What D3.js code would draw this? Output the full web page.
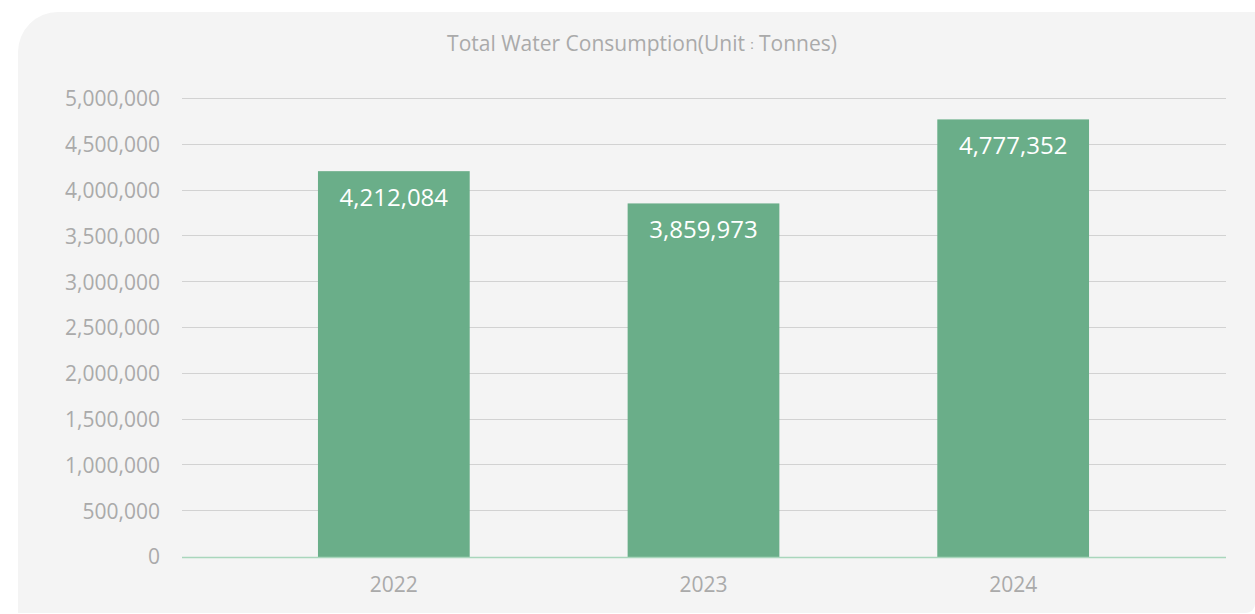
<!DOCTYPE html>
<html>
<head>
<meta charset="utf-8">
<script src="https://cdn.jsdelivr.net/npm/d3@7"></script>
<style>
  body { margin: 0; background: #fff; }
  svg { display: block; font-family: "Open Sans", sans-serif; }
</style>
</head>
<body>
<svg id="chart"></svg>
<script>
var years = ["2022", "2023", "2024"];
var consumption = [4212084, 3859973, 4777352];
var yTicks = [0, 500000, 1000000, 1500000, 2000000, 2500000, 3000000, 3500000, 4000000, 4500000, 5000000];
var titleParts = ["Total Water Consumption(Unit", "：", "Tonnes)"];

var width = 1255, height = 614;

var svg = d3.select("#chart")
  .attr("width", width)
  .attr("height", height);

// panel background, big round top-left corner
svg.append("path")
  .attr("d", "M18,52 A40,40 0 0 1 58,12 L1255,12 L1255,604 A9,9 0 0 1 1246,613 L18,613 Z")
  .attr("fill", "#f4f4f4");

var gridLeft = 182, gridRight = 1226;

var x = d3.scaleBand()
  .domain(years)
  .range([239, 1168])
  .paddingInner(0.51)
  .paddingOuter(0.255);

var y = d3.scaleLinear()
  .domain([0, 5000000])
  .range([557, 99]);

// grid lines
svg.append("g")
  .selectAll("line")
  .data(yTicks.filter(d => d > 0))
  .join("line")
    .attr("x1", gridLeft)
    .attr("x2", gridRight)
    .attr("y1", d => Math.round(y(d)) - 0.5)
    .attr("y2", d => Math.round(y(d)) - 0.5)
    .attr("stroke", "#d2d2d2")
    .attr("stroke-width", 1);

// y labels
svg.append("g")
  .selectAll("text")
  .data(yTicks)
  .join("text")
    .attr("x", 160)
    .attr("y", d => y(d))
    .attr("dy", "0.35em")
    .attr("text-anchor", "end")
    .attr("fill", "#aaaaaa")
    .style("font-size", "21px")
    .text(d => d3.format(",")(d));

// bars
svg.append("g")
  .selectAll("rect")
  .data(consumption)
  .join("rect")
    .attr("x", (d, i) => x(years[i]))
    .attr("y", d => y(d))
    .attr("width", x.bandwidth())
    .attr("height", d => y(0) - y(d))
    .attr("fill", "#6aae89");

// baseline
svg.append("line")
  .attr("x1", gridLeft)
  .attr("x2", gridRight)
  .attr("y1", y(0) + 0.5)
  .attr("y2", y(0) + 0.5)
  .attr("stroke", "#a9d6bc")
  .attr("stroke-width", 1.5);

// value labels
svg.append("g")
  .selectAll("text")
  .data(consumption)
  .join("text")
    .attr("x", (d, i) => x(years[i]) + x.bandwidth() / 2)
    .attr("y", d => y(d) + 26)
    .attr("dy", "0.35em")
    .attr("text-anchor", "middle")
    .attr("fill", "#ffffff")
    .style("font-size", "24px")
    .text(d => d3.format(",")(d));

// x labels
svg.append("g")
  .selectAll("text")
  .data(years)
  .join("text")
    .attr("x", d => x(d) + x.bandwidth() / 2)
    .attr("y", 585)
    .attr("dy", "0.35em")
    .attr("text-anchor", "middle")
    .attr("fill", "#aaaaaa")
    .style("font-size", "21px")
    .text(d => d);

// title, the wide colon set smaller so it sits tight like the original
var title = svg.append("text")
  .attr("x", 642)
  .attr("y", 51)
  .attr("text-anchor", "middle")
  .attr("fill", "#aaaaaa")
  .style("font-size", "21px");
title.append("tspan").text(titleParts[0]);
title.append("tspan").attr("dy", -2).style("font-size", "14px").text(titleParts[1]);
title.append("tspan").attr("dy", 2).text(titleParts[2]);
</script>
</body>
</html>
